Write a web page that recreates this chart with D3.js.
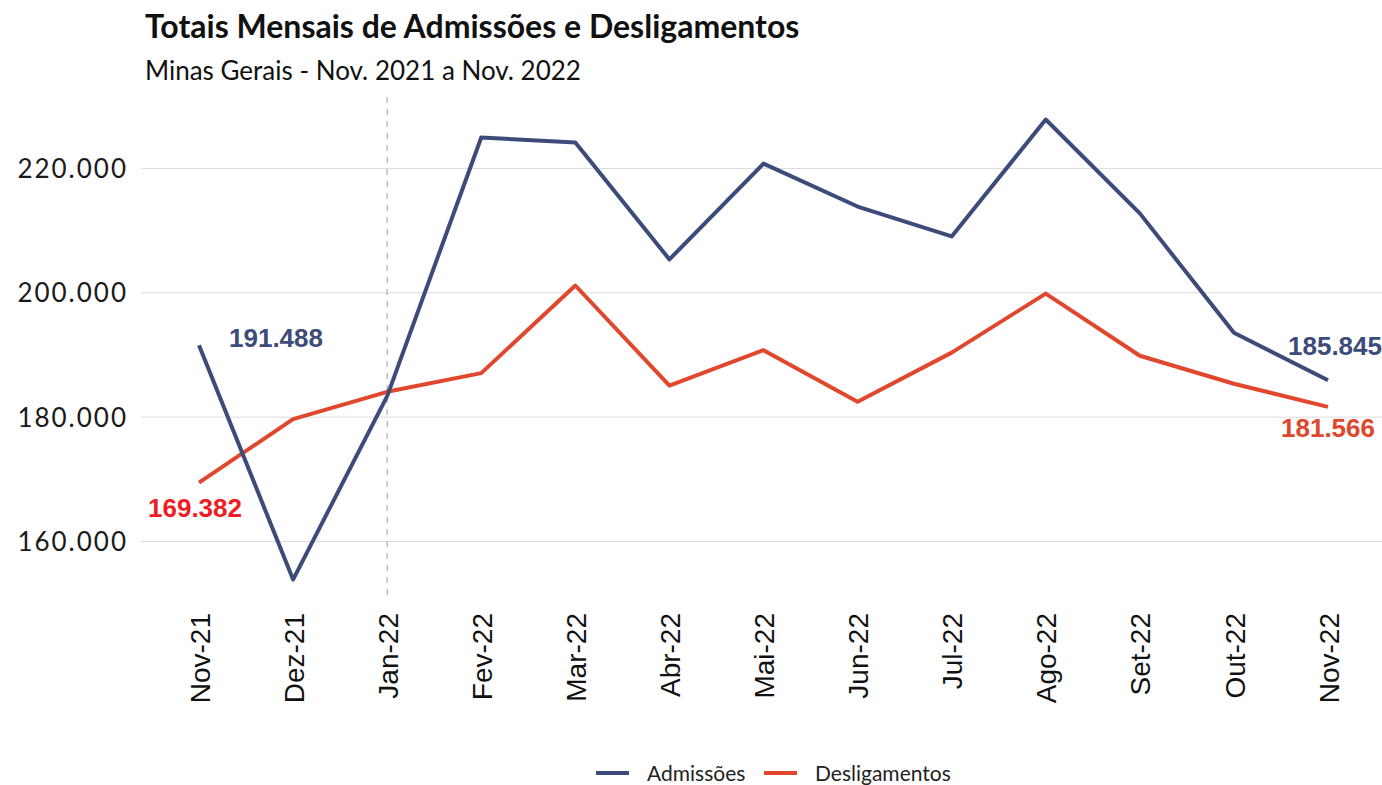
<!DOCTYPE html>
<html>
<head>
<meta charset="utf-8">
<script src="https://cdn.jsdelivr.net/npm/d3@7"></script>
<style>
  body { margin: 0; background: #fff; }
</style>
</head>
<body>
<div id="chart"></div>
<script>
/* Admissões x Desligamentos - MG, Nov/21 a Nov/22 */

const months = ["Nov-21", "Dez-21", "Jan-22", "Fev-22", "Mar-22", "Abr-22", "Mai-22",
  "Jun-22", "Jul-22", "Ago-22", "Set-22", "Out-22", "Nov-22"];
const admissoes = [191488, 153800, 183300, 224900, 224100, 205300, 220700,
  213800, 209000, 227800, 212700, 193500, 185845];
const desligamentos = [169382, 179600, 184000, 187000, 201100, 185000, 190700,
  182400, 190300, 199800, 189800, 185300, 181566];
const yTicks = [160000, 180000, 200000, 220000];
const seriesNames = ["Admissões", "Desligamentos"];

const width = 1382, height = 785;
const blue = "#3d4b7b", red = "#e0472d";

const x = d3.scalePoint().domain(months).range([199, 1328]);
const y = d3.scaleLinear().domain([160000, 220000]).range([541, 168]);
const fmt = v => d3.format(",")(v).replace(/,/g, ".");

const svg = d3.select("#chart")
  .append("svg")
  .attr("width", width)
  .attr("height", height);

// titulo e subtitulo
svg.append("text")
  .attr("x", 145).attr("y", 38)
  .attr("font-family", "Lato").attr("font-weight", "bold")
  .attr("font-size", 32).attr("fill", "#111")
  .text("Totais Mensais de Admissões e Desligamentos");
svg.append("text")
  .attr("x", 145).attr("y", 80)
  .attr("font-family", "Lato").attr("font-size", 26).attr("fill", "#111")
  .text("Minas Gerais - Nov. 2021 a Nov. 2022");

// grade horizontal + eixo y
const yAxis = svg.append("g")
  .attr("transform", "translate(141,0)")
  .call(d3.axisLeft(y).tickValues(yTicks).tickSize(-(width - 141)).tickFormat(fmt));
yAxis.select(".domain").remove();
yAxis.selectAll(".tick line").attr("stroke", "#dcdcdc").attr("stroke-width", 1);
yAxis.selectAll(".tick text")
  .attr("x", -13).attr("dy", "0.36em")
  .attr("font-family", "Lato").attr("font-size", 26)
  .attr("letter-spacing", 2).attr("fill", "#1a1a1a");

// eixo x com rótulos verticais
const xAxis = svg.append("g")
  .attr("transform", "translate(0,605)")
  .call(d3.axisBottom(x).tickSize(0));
xAxis.select(".domain").remove();
xAxis.selectAll(".tick text")
  .attr("transform", "rotate(-90)")
  .attr("text-anchor", "end")
  .attr("x", -8).attr("y", 0).attr("dy", "0.36em")
  .attr("font-family", "Liberation Sans").attr("font-size", 28).attr("fill", "#111");

// linha tracejada em Jan-22
svg.append("line")
  .attr("x1", x("Jan-22")).attr("x2", x("Jan-22"))
  .attr("y1", 97).attr("y2", 600)
  .attr("stroke", "#bdbdbd").attr("stroke-width", 1.5)
  .attr("stroke-dasharray", "6,6");

const line = d3.line().x((d, i) => x(months[i])).y(d => y(d));

svg.append("path").datum(desligamentos)
  .attr("fill", "none").attr("stroke", red).attr("stroke-width", 4)
  .attr("stroke-linejoin", "round").attr("d", line);
svg.append("path").datum(admissoes)
  .attr("fill", "none").attr("stroke", blue).attr("stroke-width", 4)
  .attr("stroke-linejoin", "round").attr("d", line);

// rótulos do primeiro e último ponto
const last = months.length - 1;
const labels = [
  {v: admissoes[0], m: months[0], dx: 77, dy: 2, c: blue},
  {v: desligamentos[0], m: months[0], dx: -4, dy: 34, c: "#ee1c25"},
  {v: admissoes[last], m: months[last], dx: 7, dy: -25, c: blue},
  {v: desligamentos[last], m: months[last], dx: 0, dy: 30, c: red}
];
svg.append("g")
  .attr("font-family", "Liberation Sans").attr("font-weight", "bold")
  .attr("font-size", 26).attr("text-anchor", "middle")
  .selectAll("text")
  .data(labels)
  .join("text")
  .attr("x", d => x(d.m) + d.dx)
  .attr("y", d => y(d.v) + d.dy)
  .attr("fill", d => d.c)
  .text(d => fmt(d.v));

// legenda
const legend = svg.append("g")
  .attr("font-family", "Lato").attr("font-size", 21).attr("fill", "#222")
  .selectAll("g")
  .data(seriesNames)
  .join("g")
  .attr("transform", (d, i) => `translate(${i ? 764 : 596},773)`);
legend.append("line")
  .attr("x1", 0).attr("x2", 33)
  .attr("stroke", (d, i) => i ? red : blue).attr("stroke-width", 4);
legend.append("text")
  .attr("x", 51).attr("dy", "0.36em")
  .text(d => d);
</script>
</body>
</html>
